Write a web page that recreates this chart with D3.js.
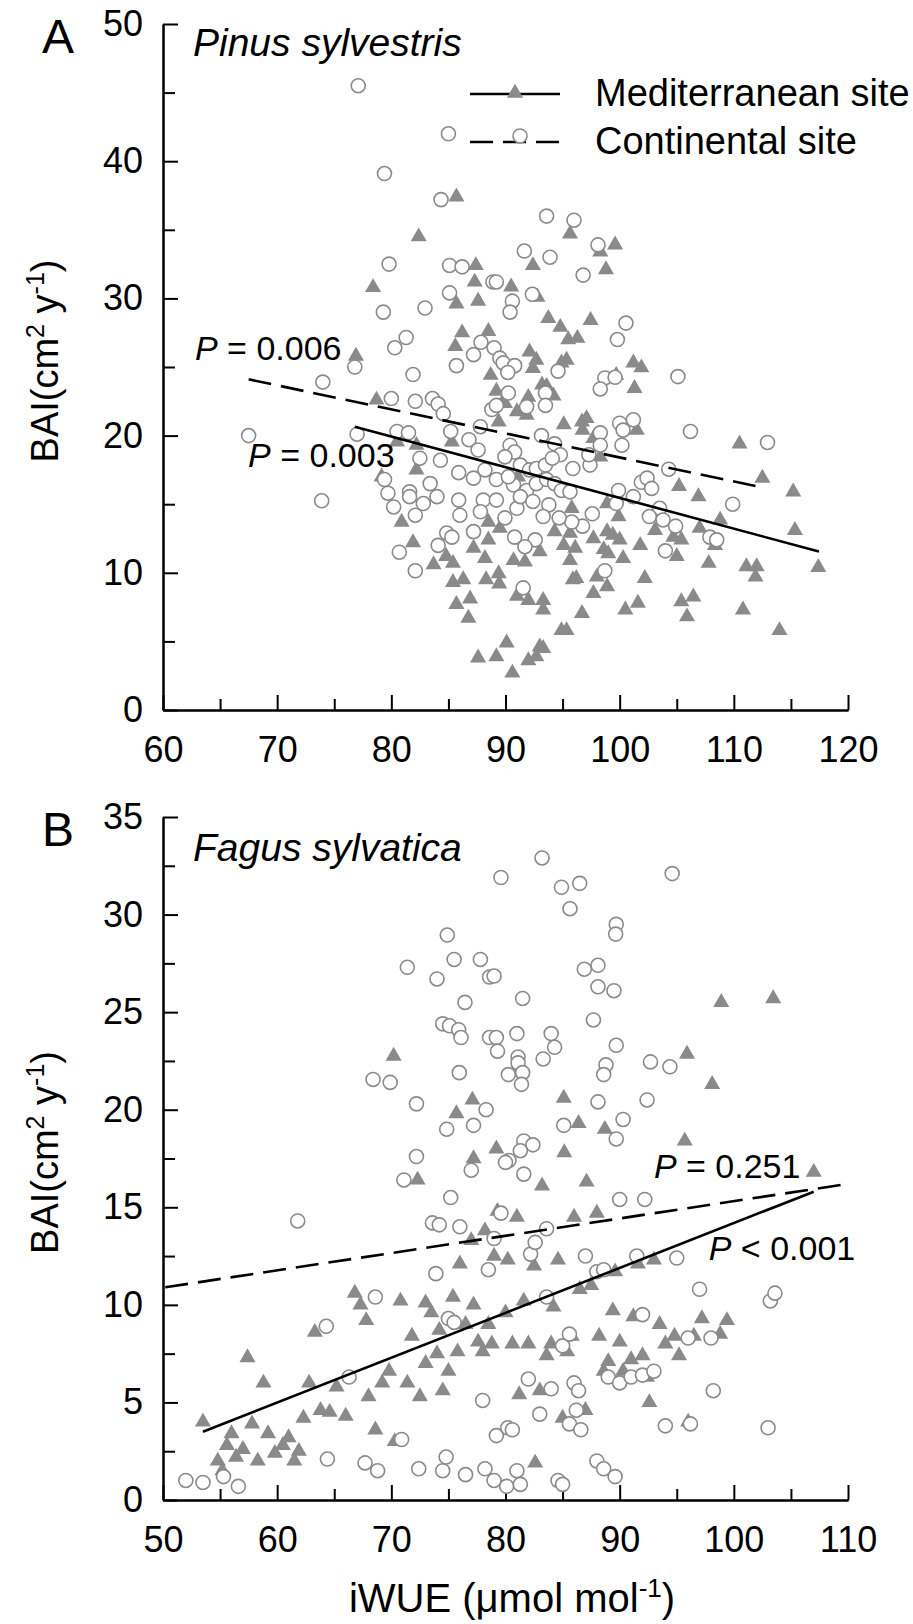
<!DOCTYPE html>
<html><head><meta charset="utf-8">
<script src="https://cdn.jsdelivr.net/npm/d3@7"></script>
<style>
body{margin:0;background:#fff}
svg text{font-family:"Liberation Sans",Arial,Helvetica,sans-serif;fill:#000}
</style></head><body>
<svg id="c" width="913" height="1624"></svg>
<script>
// ---------- DATA ----------
const xTicksA=[60,70,80,90,100,110,120], xMinorA=[65,75,85,95,105,115];
const yTicksA=[0,10,20,30,40,50], yMinorA=[5,15,25,35,45];
const xTicksB=[50,60,70,80,90,100,110], xMinorB=[55,65,75,85,95,105];
const yTicksB=[0,5,10,15,20,25,30,35], yMinorB=[2.5,7.5,12.5,17.5,22.5,27.5,32.5];

const seriesNames=["Mediterranean site","Continental site"];
const pValuesA=["0.006","0.003"], pValuesB=["0.251","0.001"];

// Pinus sylvestris — Mediterranean (triangles)
const pinusMed=[[85.7,37.4],[82.4,34.5],[78.4,30.8],[87.4,32.4],[87.3,31.2],[90.5,30.85],[85.7,29.6],[87.6,29.8],[86.2,27.5],[88.5,27.6],[85.6,26.5],[76.9,25.8],[88.7,24.4],[89.2,23.25],[78.7,22.6],
[95.65,34.7],[99.6,33.9],[98.3,33.4],[92.4,32.4],[98.8,32.1],[92.8,30.1],[93.75,28.55],[94.8,27.9],[95.5,27.0],[96.3,27.1],[97.45,28.4],[92.1,26.1],[92.7,25.5],[92.4,24.9],[94.9,25.3],[95.35,25.5],[101.2,25.3],[101.9,24.95],[101.3,23.45],[93.2,23.7],[93.6,23.6],[92.0,22.8],[99.7,24.4],
[89.95,22.35],[91.0,21.75],[89.4,21.0],[82.2,19.3],[80.5,19.55],[85.3,19.55],[82.2,17.5],[79.15,17.0],[91.1,17.0],[80.9,13.7],[81.9,12.2],[88.5,13.7],[89.5,13.25],[88.5,12.4],[87.2,11.8],[88.2,11.05],[83.7,10.6],[84.8,11.2],[85.4,10.7],[90.7,10.9],[91.7,10.8],[85.4,9.3],[86.3,9.5],[88.3,9.5],[89.4,9.95],[89.45,9.2],[91.0,8.3],[92.0,8.0],[85.7,7.7],[86.9,8.1],[86.75,6.7],[87.6,3.8],[89.2,3.9],[90.1,4.9],[90.6,2.7],[92.0,3.6],
[89.8,22.5],[91.85,21.5],[94.2,22.9],[95.1,20.8],[96.7,21.0],[97.1,21.25],[96.75,20.4],[97.7,19.8],[98.3,18.45],[101.5,20.4],[110.5,19.4],[112.5,16.9],[115.2,15.9],[115.35,13.1],[117.4,10.4],[105.2,16.3],[106.9,15.55],[108.8,13.85],[107.0,13.25],[108.35,12.0],[107.8,10.7],[111.1,10.45],[112.0,10.45],[111.9,9.7],[110.8,7.3],[114.0,5.8],[105.4,7.9],[106.45,8.25],[105.9,6.8],[101.6,7.8],[100.5,7.3],[102.2,9.6],[96.7,7.05],[97.7,8.5],[98.9,9.0],[98.0,9.7],[94.9,5.8],[95.35,5.8],[93.0,4.6],[92.7,3.9],[93.3,4.5],[93.3,8.0],[93.3,7.3],[95.9,9.5],[96.2,9.6],[95.65,10.9],[96.1,11.8],[95.1,12.0],[95.65,12.9],[94.3,13.0],[97.7,12.5],[98.9,13.0],[99.4,12.75],[100.0,12.4],[98.6,11.7],[99.0,11.4],[100.3,11.05],[99.9,14.1],[98.9,15.05],[95.8,14.7],[101.8,12.0],[103.1,13.1],[104.7,12.6],[105.4,12.4],[105.0,11.2],[93.0,11.55]];

// Pinus sylvestris — Continental (circles)
const pinusCont=[[77.1,45.5],[85.0,42.0],[79.4,39.1],[84.35,37.2],[79.8,32.5],[85.1,32.4],[86.2,32.3],[91.65,33.45],[88.9,31.2],[89.2,31.2],[85.1,30.4],[90.6,29.8],[90.4,29.0],[79.3,29.0],[82.95,29.3],[81.3,27.15],[80.3,26.4],[76.8,25.0],[74.0,23.9],[81.9,24.45],[85.7,25.1],[87.2,25.9],[87.85,26.8],[89.0,26.4],[89.5,25.65],[89.8,25.3],[90.8,25.1],[90.2,24.6],[90.25,23.1],[80.0,22.7],[82.1,22.5],[83.6,22.7],[84.1,22.3],
[93.6,36.0],[96.0,35.7],[93.9,33.0],[98.1,33.9],[96.8,31.7],[92.35,30.3],[100.55,28.2],[99.8,27.0],[94.6,24.7],[98.7,24.2],[99.6,24.25],[98.3,23.4],[105.1,24.3],[93.5,23.1],
[67.5,20.0],[73.9,15.25],[84.55,21.6],[77.0,20.1],[80.5,20.3],[81.5,20.2],[85.2,20.3],[86.8,19.7],[87.6,18.95],[82.5,18.35],[84.3,18.2],[88.8,21.9],[87.8,20.65],[90.4,19.3],[90.8,18.8],[85.9,17.3],[87.2,16.9],[88.2,17.5],[89.2,16.8],[90.7,16.4],[79.4,16.8],[79.7,15.8],[80.2,14.8],[81.6,15.9],[81.6,15.55],[82.8,15.05],[82.1,14.2],[83.4,16.5],[84.0,15.55],[85.9,15.3],[86.0,14.2],[88.05,15.3],[87.8,14.45],[89.2,15.3],[87.2,13.0],[84.85,12.9],[85.3,12.6],[89.95,14.0],[91.0,14.7],[90.8,12.6],[84.1,12.0],[80.7,11.5],[82.1,10.15],[91.55,8.9],
[93.5,22.2],[91.85,22.1],[89.2,22.2],[93.15,20.0],[94.3,19.4],[94.8,18.6],[89.95,18.45],[91.3,17.85],[92.1,17.5],[92.7,17.6],[93.5,17.85],[94.1,18.35],[95.9,17.6],[97.4,17.85],[97.3,18.6],[98.3,20.2],[98.3,19.3],[100.0,20.9],[100.3,20.4],[101.2,21.15],[100.2,19.3],[106.2,20.3],[112.95,19.5],[104.3,17.55],[90.25,17.0],[91.85,16.0],[92.7,16.5],[93.6,16.8],[94.3,16.5],[94.9,16.0],[91.3,15.55],[92.4,15.2],[93.8,14.95],[95.65,15.9],[99.9,16.0],[99.7,15.05],[101.2,15.55],[101.9,16.6],[102.4,16.9],[102.8,16.15],[103.5,14.7],[102.6,14.1],[103.8,13.85],[104.9,13.4],[109.9,15.0],[107.9,12.6],[108.5,12.4],[104.0,11.6],[98.7,10.15],[97.6,14.3],[96.75,13.4],[95.8,13.7],[94.7,14.0],[93.3,14.1],[92.6,12.4],[91.7,11.9]];

// Fagus sylvatica — Mediterranean (triangles)
const fagusMed=[[70.2,22.75],[77.1,20.5],[75.7,19.8],[77.2,17.5],[98.9,25.5],[103.45,25.7],[95.9,22.85],[98.1,21.3],[85.1,20.6],[86.4,19.3],[88.7,19.0],[95.7,18.4],[79.2,18.0],[85.15,17.8],[107.0,16.8],
[53.5,4.0],[54.8,2.0],[55.2,1.5],[55.6,2.8],[56.0,3.4],[56.4,2.2],[57.0,2.6],[57.4,7.3],[57.8,3.9],[58.3,2.0],[58.8,6.0],[59.2,3.4],[59.8,2.4],[60.5,2.8],[61.0,3.2],[61.5,2.0],[61.9,2.5],[62.3,4.2],[62.8,6.0],[63.3,8.6],[63.8,4.6],[64.6,4.5],[65.2,5.8],[66.0,4.3],[66.8,10.6],[67.3,10.0],[67.8,9.2],[68.0,5.3],[68.6,3.6],[69.2,6.0],[69.8,6.6],[70.3,3.0],[70.8,10.2],[71.4,6.0],[71.8,8.4],[72.3,16.4],[72.5,5.3],[73.0,7.0],[73.0,10.1],[73.5,9.6],[74.0,7.5],[74.2,8.7],[74.5,5.6],[75.0,6.6],[75.4,10.4],[75.8,7.6],[76.0,12.1],[76.5,9.0],[77.0,13.3],[77.2,10.0],[77.6,8.1],[78.0,7.6],[78.2,13.8],[78.5,9.0],[78.8,8.0],[79.0,12.5],[79.3,14.8],[80.0,9.6],[80.2,12.3],[80.6,8.0],[81.0,14.5],[81.2,5.4],[81.6,10.2],[82.0,8.0],[82.5,12.0],[82.6,1.9],[83.0,5.6],[83.2,16.1],[83.6,7.4],[84.0,8.0],[84.2,9.9],[84.6,12.3],[85.0,4.2],[85.4,7.6],[85.8,8.4],[86.0,14.5],[86.5,10.8],[87.0,4.6],[87.1,16.3],[87.5,11.0],[88.0,14.7],[88.2,8.4],[88.6,6.6],[89.0,7.1],[89.4,9.7],[89.6,11.7],[90.0,8.1],[90.3,6.6],[91.0,7.2],[91.2,9.4],[91.6,12.1],[92.0,7.4],[92.4,6.3],[92.6,5.0],[93.0,12.3],[93.5,9.0],[94.0,8.0],[94.8,8.4],[95.2,7.4],[96.0,4.0],[96.5,8.4],[97.2,9.3],[98.8,8.5],[99.4,9.2]];

// Fagus sylvatica — Continental (circles)
const fagusCont=[[74.9,28.95],[71.4,27.3],[75.5,27.7],[77.8,27.7],[74.0,26.7],[78.6,26.8],[76.45,25.5],[74.5,24.4],[75.1,24.3],[75.9,24.1],[76.1,23.7],[78.6,23.7],[68.4,21.55],[69.9,21.4],[75.95,21.9],[72.2,20.3],[74.85,19.0],[77.2,19.2],[78.3,20.0],[72.2,17.6],
[83.2,32.9],[79.6,31.9],[94.6,32.1],[84.9,31.4],[86.5,31.6],[85.65,30.3],[89.7,29.5],[89.65,29.0],[79.0,26.85],[86.9,27.2],[88.1,27.4],[88.1,26.3],[89.5,26.1],[81.5,25.7],[87.7,24.6],[79.2,23.7],[81.0,23.9],[79.3,23.0],[84.0,23.9],[84.3,23.2],[89.7,23.3],[81.1,22.7],[81.1,22.4],[81.5,21.9],[80.25,21.8],[81.4,21.3],[83.3,22.6],[88.8,22.3],[88.6,21.8],[92.7,22.45],[94.4,22.2],[92.4,20.5],[88.1,20.4],[90.3,19.5],[85.1,19.2],[89.7,18.5],[81.6,18.4],[82.4,18.2],[81.3,17.9],[80.3,17.4],
[52.0,1.0],[53.5,0.9],[55.3,1.2],[56.6,0.7],[61.8,14.3],[64.3,8.9],[64.4,2.1],[66.3,6.3],[67.7,1.9],[68.8,1.5],[68.6,10.4],[70.9,3.1],[71.1,16.4],[72.4,1.6],[73.6,14.2],[73.9,11.6],[74.2,14.1],[74.5,1.5],[74.8,2.2],[75.0,9.3],[75.5,9.1],[75.2,15.5],[76.0,14.0],[76.5,1.3],[77.0,16.9],[78.0,5.1],[78.5,11.8],[78.2,1.6],[79.0,1.0],[79.2,3.3],[79.0,13.4],[79.6,14.7],[80.0,17.3],[80.2,3.7],[80.6,3.6],[80.1,0.7],[81.0,1.5],[81.3,0.8],[81.6,16.7],[82.0,6.2],[82.2,12.6],[82.6,13.2],[83.0,4.4],[83.6,10.4],[83.6,13.9],[84.0,5.7],[84.6,1.0],[85.0,0.8],[85.0,7.9],[85.6,8.5],[85.6,3.9],[86.0,6.0],[86.2,4.6],[86.4,5.6],[86.6,3.6],[87.0,12.5],[88.0,11.7],[88.0,2.0],[88.6,1.6],[88.6,11.8],[89.0,6.3],[89.6,1.2],[90.0,6.0],[90.0,15.4],[91.0,6.3],[91.5,12.5],[92.0,6.4],[92.0,9.5],[92.2,15.4],[93.0,6.6],[94.0,3.8],[96.0,8.3],[97.0,10.8],[98.0,8.3],[98.2,5.6],[103.0,3.7],[103.2,10.2],[103.6,10.6],[95.0,12.4],[96.2,3.9]];

// regression line end points [x0,y0,x1,y1]
const fitA_med=[76.8,20.65,117.45,11.55], fitA_cont=[67.5,24.1,112.6,16.2];
const fitB_med=[53.5,3.5,107.0,15.8],   fitB_cont=[50.2,10.9,110.0,16.2];

// ---------- DRAW ----------
const svg=d3.select("#c");
const GREY="#8a8a8a";
const triPath=d3.symbol(d3.symbolTriangle,112)();

function panel(o){
  const g=svg.append("g");
  const x=d3.scaleLinear().domain(o.xd).range([163,848]);
  const y=d3.scaleLinear().domain(o.yd).range([o.y0,o.y1]);
  const styleAx=s=>{s.attr("font-family",null).attr("font-size",null);
    s.select(".domain").attr("stroke","#000").attr("stroke-width",2);
    s.selectAll(".tick line").attr("stroke","#000").attr("stroke-width",2);
    s.selectAll(".tick text").style("font-size","36px").attr("fill","#000");};
  g.append("g").attr("transform",`translate(0,${o.y0})`)
    .call(d3.axisBottom(x).tickValues(o.xMinor).tickSizeInner(-11).tickSizeOuter(0).tickFormat(""))
    .call(styleAx);
  g.append("g").attr("transform",`translate(0,${o.y0})`)
    .call(d3.axisBottom(x).tickValues(o.xTicks).tickSizeInner(-15).tickSizeOuter(0).tickPadding(26).tickFormat(d3.format("d")))
    .call(styleAx);
  g.append("g").attr("transform",`translate(163,0)`)
    .call(d3.axisLeft(y).tickValues(o.yMinor).tickSizeInner(-12).tickSizeOuter(0).tickFormat(""))
    .call(styleAx);
  g.append("g").attr("transform",`translate(163,0)`)
    .call(d3.axisLeft(y).tickValues(o.yTicks).tickSizeInner(-15).tickSizeOuter(0).tickPadding(20).tickFormat(d3.format("d")))
    .call(styleAx);

  // points
  g.append("g").selectAll("path").data(o.med).join("path")
    .attr("d",triPath).attr("transform",d=>`translate(${x(d[0])},${y(d[1])})`)
    .attr("fill",GREY);
  g.append("g").selectAll("circle").data(o.cont).join("circle")
    .attr("cx",d=>x(d[0])).attr("cy",d=>y(d[1])).attr("r",7)
    .attr("fill","#fff").attr("stroke",GREY).attr("stroke-width",1.6);

  // fits
  const line=(f,dash)=>g.append("line").attr("x1",x(f[0])).attr("y1",y(f[1])).attr("x2",x(f[2])).attr("y2",y(f[3]))
    .attr("stroke","#000").attr("stroke-width",2.6).attr("stroke-dasharray",dash||null);
  line(o.fitMed); line(o.fitCont,"23,10");

  // letter & title
  g.append("text").attr("x",42).attr("y",o.y1+29).style("font-size","48px").text(o.letter);
  g.append("text").attr("x",193).attr("y",o.titleY).style("font-size","39px").style("font-style","italic").text(o.title);

  // P labels
  o.pl.forEach(p=>{
    const t=g.append("text").attr("x",x(p.x)).attr("y",y(p.y)).style("font-size","34px");
    t.append("tspan").style("font-style","italic").text("P");
    t.append("tspan").text(p.s);
  });

  // y title
  const yt=g.append("text").attr("transform",`translate(58,${(o.y0+o.y1)/2-6}) rotate(-90)`).attr("text-anchor","middle").style("font-size","38px");
  yt.append("tspan").text("BAI(cm");
  yt.append("tspan").attr("dy",-14).style("font-size","25px").text("2");
  yt.append("tspan").attr("dy",14).text(" y");
  yt.append("tspan").attr("dy",-14).style("font-size","25px").text("-1");
  yt.append("tspan").attr("dy",14).text(")");
  return {g,x,y};
}

const A=panel({xd:[60,120],yd:[0,50],y0:710,y1:24,xTicks:xTicksA,xMinor:xMinorA,yTicks:yTicksA,yMinor:yMinorA,
  med:pinusMed,cont:pinusCont,fitMed:fitA_med,fitCont:fitA_cont,letter:"A",title:"Pinus sylvestris",titleY:56,
  pl:[{x:62.8,y:25.5,s:" = "+pValuesA[0]},{x:67.45,y:17.7,s:" = "+pValuesA[1]}]});
const B=panel({xd:[50,110],yd:[0,35],y0:1500,y1:817,xTicks:xTicksB,xMinor:xMinorB,yTicks:yTicksB,yMinor:yMinorB,
  med:fagusMed,cont:fagusCont,fitMed:fitB_med,fitCont:fitB_cont,letter:"B",title:"Fagus sylvatica",titleY:861,
  pl:[{x:93.0,y:16.5,s:" = "+pValuesB[0]},{x:97.8,y:12.3,s:" < "+pValuesB[1]}]});

// legend (panel A)
const lg=svg.append("g");
[[94,"med"],[142,"cont"]].forEach(([ly,k],i)=>{
  lg.append("line").attr("x1",470).attr("x2",560).attr("y1",ly).attr("y2",ly).attr("stroke","#000").attr("stroke-width",2.6)
    .attr("stroke-dasharray",k==="cont"?"23,10":null);
  if(k==="med") lg.append("path").attr("d",triPath).attr("transform",`translate(515,${ly-1})`).attr("fill",GREY);
  else lg.append("circle").attr("cx",520).attr("cy",ly-6).attr("r",7).attr("fill","#fff").attr("stroke",GREY).attr("stroke-width",1.6);
  lg.append("text").attr("x",595).attr("y",ly+12).style("font-size","38px").text(seriesNames[i]);
});

// x title
const xt=svg.append("text").attr("x",512).attr("y",1612).attr("text-anchor","middle").style("font-size","40px");
xt.append("tspan").text("iWUE (\u03bcmol mol");
xt.append("tspan").attr("dy",-15).style("font-size","26px").text("-1");
xt.append("tspan").attr("dy",15).text(")");
</script></body></html>
